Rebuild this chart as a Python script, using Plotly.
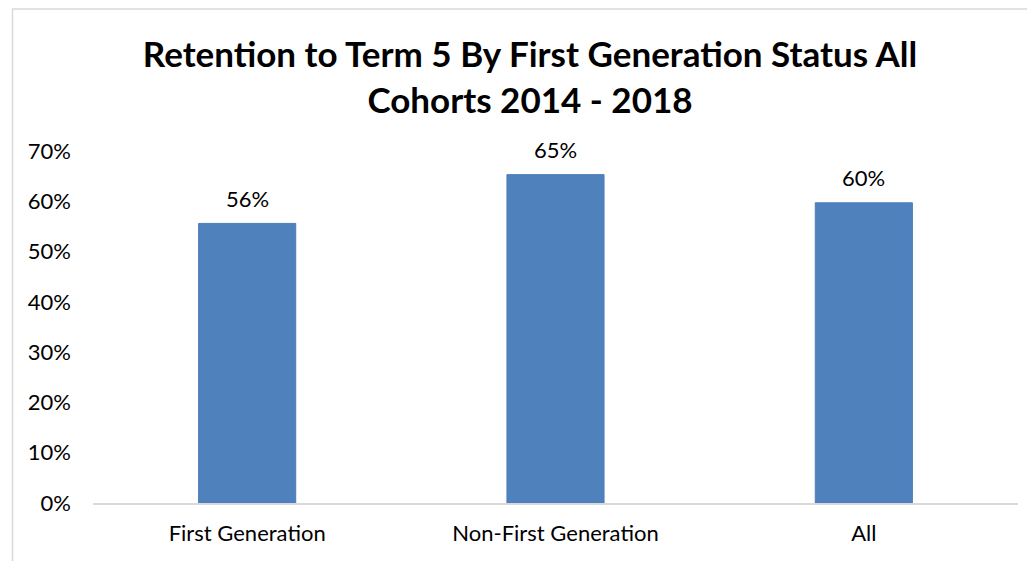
import plotly.graph_objects as go

# Retention to term 5, all cohorts 2014-2018
categories = ["First Generation", "Non-First Generation", "All"]
retention = [0.556, 0.653, 0.597]
labels = ["56%", "65%", "60%"]
y_ticks = [0, 0.1, 0.2, 0.3, 0.4, 0.5, 0.6, 0.7]

BAR_COLOR = "#4f81bd"
FONT = "Lato, Carlito, Calibri, sans-serif"

fig = go.Figure()
fig.add_trace(go.Bar(
    x=categories,
    y=retention,
    marker=dict(color=BAR_COLOR, line=dict(color="#4a7ebb", width=1)),
    width=0.315,
))

# data labels sit a bit above the bars, like Excel does
for cat, val, lab in zip(categories, retention, labels):
    fig.add_annotation(
        x=cat, y=val, text=lab, showarrow=False,
        yanchor="middle", yshift=25,
        font=dict(size=22, family=FONT, color="#000000"),
    )

fig.update_layout(
    width=1035,
    height=561,
    margin=dict(l=85, r=25, t=143, b=66),
    paper_bgcolor="white",
    plot_bgcolor="white",
    showlegend=False,
    font=dict(family=FONT, color="#000000"),
    title=dict(
        text="<b>Retention to Term 5 By First Generation Status All<br>Cohorts 2014 - 2018</b>",
        x=522 / 1035,
        xanchor="center",
        y=1 - 59 / 561,
        yanchor="middle",
        font=dict(size=35, family=FONT, color="#000000"),
    ),
    xaxis=dict(
        showline=True,
        linecolor="#d9d9d9",
        linewidth=2,
        ticks="",
        ticklabelstandoff=10,
        tickfont=dict(size=22, family=FONT),
        showgrid=False,
    ),
    yaxis=dict(
        range=[0, 0.7],
        tickvals=y_ticks,
        tickformat=".0%",
        showgrid=False,
        showline=False,
        zeroline=False,
        ticks="",
        ticklabelstandoff=21,
        tickfont=dict(size=22, family=FONT),
    ),
)

# chart-area border
fig.add_shape(
    type="rect", xref="paper", yref="paper",
    x0=(4.5 - 85) / 925, x1=1.1, y0=-0.3, y1=(495 - 1) / 352,
    line=dict(color="#d9d9d9", width=1.5),
    fillcolor="rgba(0,0,0,0)", layer="below",
)

fig.write_html("out.html")
